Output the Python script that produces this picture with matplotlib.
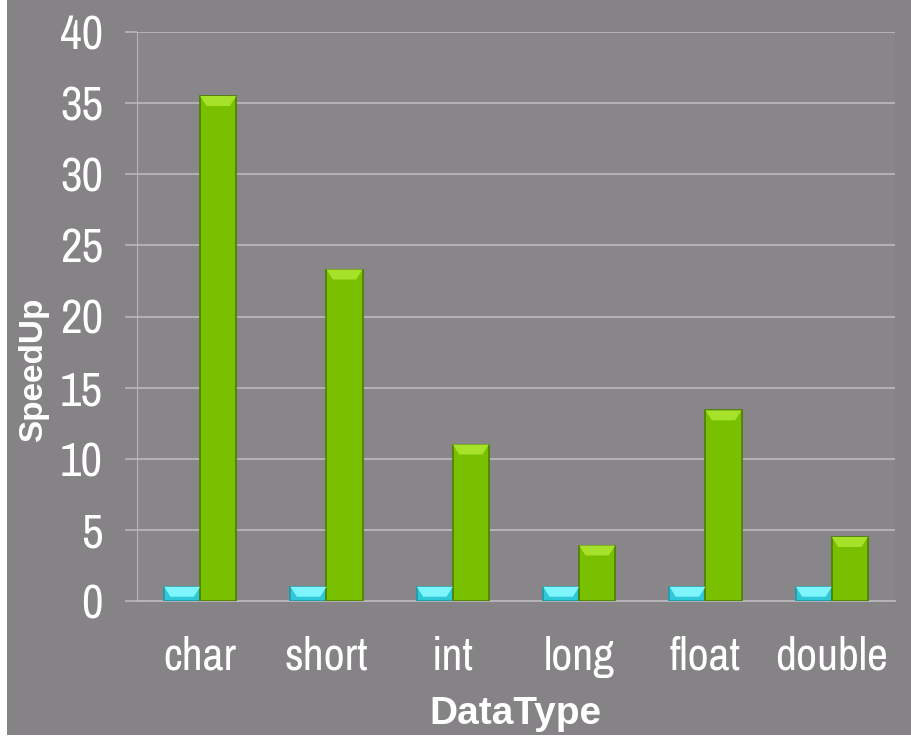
import matplotlib.pyplot as plt
import matplotlib.patches as mpatches
from matplotlib import font_manager
import numpy as np

# speedup per data type, baseline vs vectorised
types = ["char", "short", "int", "long", "float", "double"]
baseline = [1, 1, 1, 1, 1, 1]
speedup = [35.5, 23.3, 11.0, 3.9, 13.4, 4.5]
yticks = [0, 5, 10, 15, 20, 25, 30, 35, 40]

# pick a narrow sans if one is around
fonts = {}
for f in font_manager.fontManager.ttflist:
    fonts.setdefault(f.name, set()).add(f.weight)
narrow = None
for name in ["Liberation Sans Narrow", "Arial Narrow", "Archivo Narrow", "PT Sans Narrow",
             "Roboto Condensed", "Pragati Narrow"]:
    if name in fonts:
        narrow = name
        break
has_bold = narrow is not None and any(w >= 600 for w in fonts[narrow])
base_font = narrow or "Liberation Sans"
plt.rcParams["font.family"] = [base_font, "DejaVu Sans"]
if narrow:
    tick_y, tick_x = 34, 33
else:
    tick_y, tick_x = 28, 28
if has_bold:
    title_font, xl_size, yl_size = [narrow, "DejaVu Sans"], 33, 29
else:
    title_font, xl_size, yl_size = ["Liberation Sans", "DejaVu Sans"], 28, 24

bg = "#858385"
fig = plt.figure(figsize=(9.12, 7.43), dpi=100, facecolor="white")
fig.patches.append(mpatches.Rectangle((7 / 912, 8 / 743), 1, 1, transform=fig.transFigure,
                                      facecolor=bg, edgecolor="none", zorder=-10))
ax = fig.add_axes([137 / 912, 142 / 743, 758 / 912, 569 / 743])
ax.set_facecolor("#888688")

x = np.arange(len(types))
w = 0.285


def bevel_bars(xs, vals, face, light, edge):
    ax.bar(xs, vals, w, color=face, edgecolor=edge, linewidth=1.2, zorder=3)
    bh = 0.7
    dx = 0.05
    for xi, v in zip(xs, vals):
        l, r = xi - w / 2, xi + w / 2
        poly = [(l, v), (r, v), (r - dx, v - bh), (l + dx, v - bh)]
        ax.add_patch(mpatches.Polygon(poly, closed=True, facecolor=light,
                                      edgecolor="none", zorder=4))


bevel_bars(x - w / 2, baseline, "#2ec8d8", "#7ef4fc", "#1f9aa8")
bevel_bars(x + w / 2, speedup, "#78c000", "#a6e22a", "#4d7f00")

ax.set_xlim(-0.5, len(types) - 0.5)
ax.set_ylim(0, 40)
ax.set_yticks(yticks)
ax.set_xticks(x)
ax.set_xticklabels(types)
ax.grid(axis="y", color="#b8b6b8", linewidth=1.3, zorder=1)
ax.set_axisbelow(True)
for s in ["top", "right"]:
    ax.spines[s].set_visible(False)
ax.spines["left"].set_color("#b8b6b8")
ax.spines["bottom"].set_color("#b8b6b8")
ax.spines["bottom"].set_linewidth(1.3)
ax.tick_params(axis="y", colors="#b8b6b8", length=8.5, width=1.2, labelcolor="white",
               labelsize=tick_y, pad=16)
ax.tick_params(axis="x", length=0, labelcolor="white", labelsize=tick_x, pad=25)

fig.text(34 / 912, 1 - 370 / 743, "SpeedUp", rotation=90, color="white", fontsize=yl_size,
         fontweight="bold", ha="center", va="center", family=title_font)
fig.text(515 / 912, 1 - 714 / 743, "DataType", color="white", fontsize=xl_size,
         fontweight="bold", ha="center", va="center", family=title_font)

fig.savefig("out.png", dpi=100, facecolor=fig.get_facecolor())
